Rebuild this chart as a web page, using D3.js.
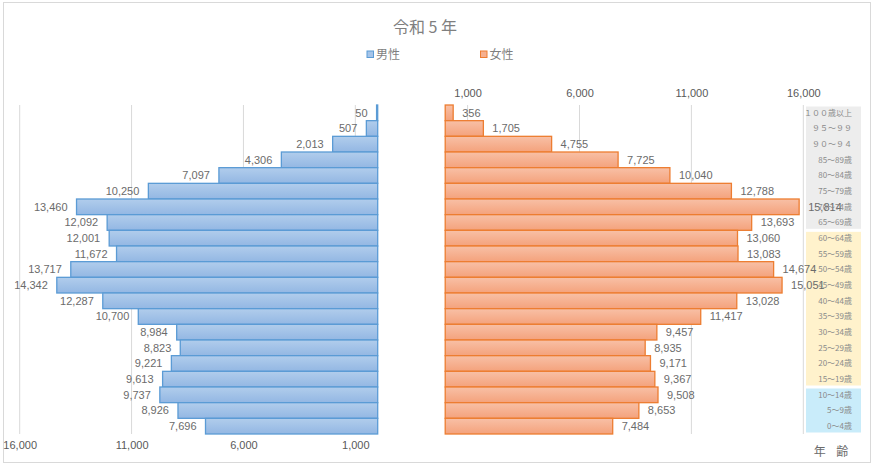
<!DOCTYPE html>
<html><head><meta charset="utf-8">
<script src="https://cdn.jsdelivr.net/npm/d3@7"></script>
<style>
html,body{margin:0;padding:0;background:#fff;}
svg{display:block;}
</style></head>
<body>
<script>
const categories = ["１００歳以上","９５～９９","９０～９４","85～89歳","80～84歳","75～79歳","70～74歳","65～69歳","60～64歳","55～59歳","50～54歳","45～49歳","40～44歳","35～39歳","30～34歳","25～29歳","20～24歳","15～19歳","10～14歳","5～9歳","0～4歳"];
const male = [50,507,2013,4306,7097,10250,13460,12092,12001,11672,13717,14342,12287,10700,8984,8823,9221,9613,9737,8926,7696];
const female = [356,1705,4755,7725,10040,12788,15814,13693,13060,13083,14674,15051,13028,11417,9457,8935,9171,9367,9508,8653,7484];
const tickValues = [1000,6000,11000,16000];
const groups = [
  {from:0, to:7, color:"#ededed"},
  {from:8, to:17, color:"#fff2cc"},
  {from:18, to:20, color:"#c9ecfa"}
];
const title = "令和 5 年";
const seriesNames = ["男性","女性"];

const W = 874, H = 465;
const numFont = "'Liberation Sans', Arial, sans-serif";
const jpFont = "'Noto Sans CJK JP', 'Noto Sans', sans-serif";

const svg = d3.select("body").append("svg").attr("width", W).attr("height", H);
const defs = svg.append("defs");
const gm = defs.append("linearGradient").attr("id","gm").attr("x1",0).attr("y1",0).attr("x2",0).attr("y2",1);
gm.append("stop").attr("offset","0%").attr("stop-color","#b1cdec");
gm.append("stop").attr("offset","100%").attr("stop-color","#93b7e3");
const gf = defs.append("linearGradient").attr("id","gf").attr("x1",0).attr("y1",0).attr("x2",0).attr("y2",1);
gf.append("stop").attr("offset","0%").attr("stop-color","#f8c0a6");
gf.append("stop").attr("offset","100%").attr("stop-color","#f4a27c");

// outer border
svg.append("rect").attr("x",3.5).attr("y",2.5).attr("width",867).attr("height",460)
  .attr("fill","none").attr("stroke","#d9d9d9").attr("stroke-width",1);

const y = d3.scaleBand().domain(categories).range([105, 434]).padding(0);
const xM = d3.scaleLinear().domain([0,16000]).range([377.7, 19.7]);
const xF = d3.scaleLinear().domain([0,16000]).range([445.2, 803.3]);

// gridlines
svg.append("g").selectAll("line").data(tickValues).join("line")
  .attr("x1",d=>xM(d)).attr("x2",d=>xM(d)).attr("y1",105).attr("y2",434)
  .attr("stroke","#d9d9d9").attr("stroke-width",1);
svg.append("g").selectAll("line").data(tickValues).join("line")
  .attr("x1",d=>xF(d)).attr("x2",d=>xF(d)).attr("y1",105).attr("y2",434)
  .attr("stroke","#d9d9d9").attr("stroke-width",1);

// age group panels
svg.append("g").selectAll("rect").data(groups).join("rect")
  .attr("x",806).attr("width",55)
  .attr("y",d=>y(categories[d.from])+1.5)
  .attr("height",d=>y(categories[d.to])+y.bandwidth()-y(categories[d.from])-3)
  .attr("fill",d=>d.color);

// male bars
svg.append("g").selectAll("rect").data(male).join("rect")
  .attr("x",d=>xM(d)).attr("width",d=>xM(0)-xM(d))
  .attr("y",(d,i)=>y(categories[i])).attr("height",y.bandwidth())
  .attr("fill","url(#gm)").attr("stroke","#5b9bd5").attr("stroke-width",1.3);
// female bars
svg.append("g").selectAll("rect").data(female).join("rect")
  .attr("x",xF(0)).attr("width",d=>xF(d)-xF(0))
  .attr("y",(d,i)=>y(categories[i])).attr("height",y.bandwidth())
  .attr("fill","url(#gf)").attr("stroke","#ed7d31").attr("stroke-width",1.3);

const fmt = d3.format(",");
// male labels
svg.append("g").selectAll("text").data(male).join("text")
  .attr("x",d=>xM(d)-9).attr("y",(d,i)=>y(categories[i])+y.bandwidth()/2)
  .attr("dy","0.36em").attr("text-anchor","end")
  .attr("font-family",numFont).attr("font-size",11).attr("fill","#6b6b6b")
  .text(d=>fmt(d));
// female labels
svg.append("g").selectAll("text").data(female).join("text")
  .attr("x",d=>xF(d)+9).attr("y",(d,i)=>y(categories[i])+y.bandwidth()/2)
  .attr("dy","0.36em").attr("text-anchor","start")
  .attr("font-family",numFont).attr("font-size",11).attr("fill","#6b6b6b")
  .text(d=>fmt(d));

// axes
const axF = svg.append("g").attr("transform","translate(0,97)")
  .call(d3.axisTop(xF).tickValues(tickValues).tickFormat(fmt).tickSize(0).tickPadding(0));
const axM = svg.append("g").attr("transform","translate(0,441)")
  .call(d3.axisBottom(xM).tickValues(tickValues).tickFormat(fmt).tickSize(0).tickPadding(0));
[axF, axM].forEach(a=>{
  a.select(".domain").remove();
  a.selectAll("text").attr("font-family",numFont).attr("font-size",11).attr("fill","#595959");
});
axM.selectAll("text").attr("dy","0.71em");

// age labels
svg.append("g").selectAll("text").data(categories).join("text")
  .attr("x",852).attr("y",d=>y(d)+y.bandwidth()/2).attr("dy","0.35em")
  .attr("text-anchor","end").attr("font-family",jpFont).attr("font-size",8)
  .attr("fill","#8a8a8a").text(d=>d);

// title
svg.append("text").attr("x",425).attr("y",33).attr("text-anchor","middle")
  .attr("font-family",jpFont).attr("font-size",16).attr("fill","#7f7f7f").text(title);

// legend
const legend = [
  {name:seriesNames[0], x:367, fill:"#a5c4e9", stroke:"#5b9bd5"},
  {name:seriesNames[1], x:480.5, fill:"#f6b08f", stroke:"#ed7d31"}
];
const lg = svg.append("g").selectAll("g").data(legend).join("g");
lg.append("rect").attr("x",d=>d.x).attr("y",51).attr("width",6.5).attr("height",6.5)
  .attr("fill",d=>d.fill).attr("stroke",d=>d.stroke).attr("stroke-width",1);
lg.append("text").attr("x",d=>d.x+9).attr("y",55).attr("dy","0.35em")
  .attr("font-family",jpFont).attr("font-size",12).attr("fill","#7f7f7f").text(d=>d.name);

// axis title
svg.append("text").attr("x",833).attr("y",452).attr("dy","0.35em").attr("text-anchor","middle")
  .attr("font-family",jpFont).attr("font-size",12).attr("fill","#6b6b6b")
  .attr("letter-spacing","4px").text("年 齢");
</script>
</body></html>
